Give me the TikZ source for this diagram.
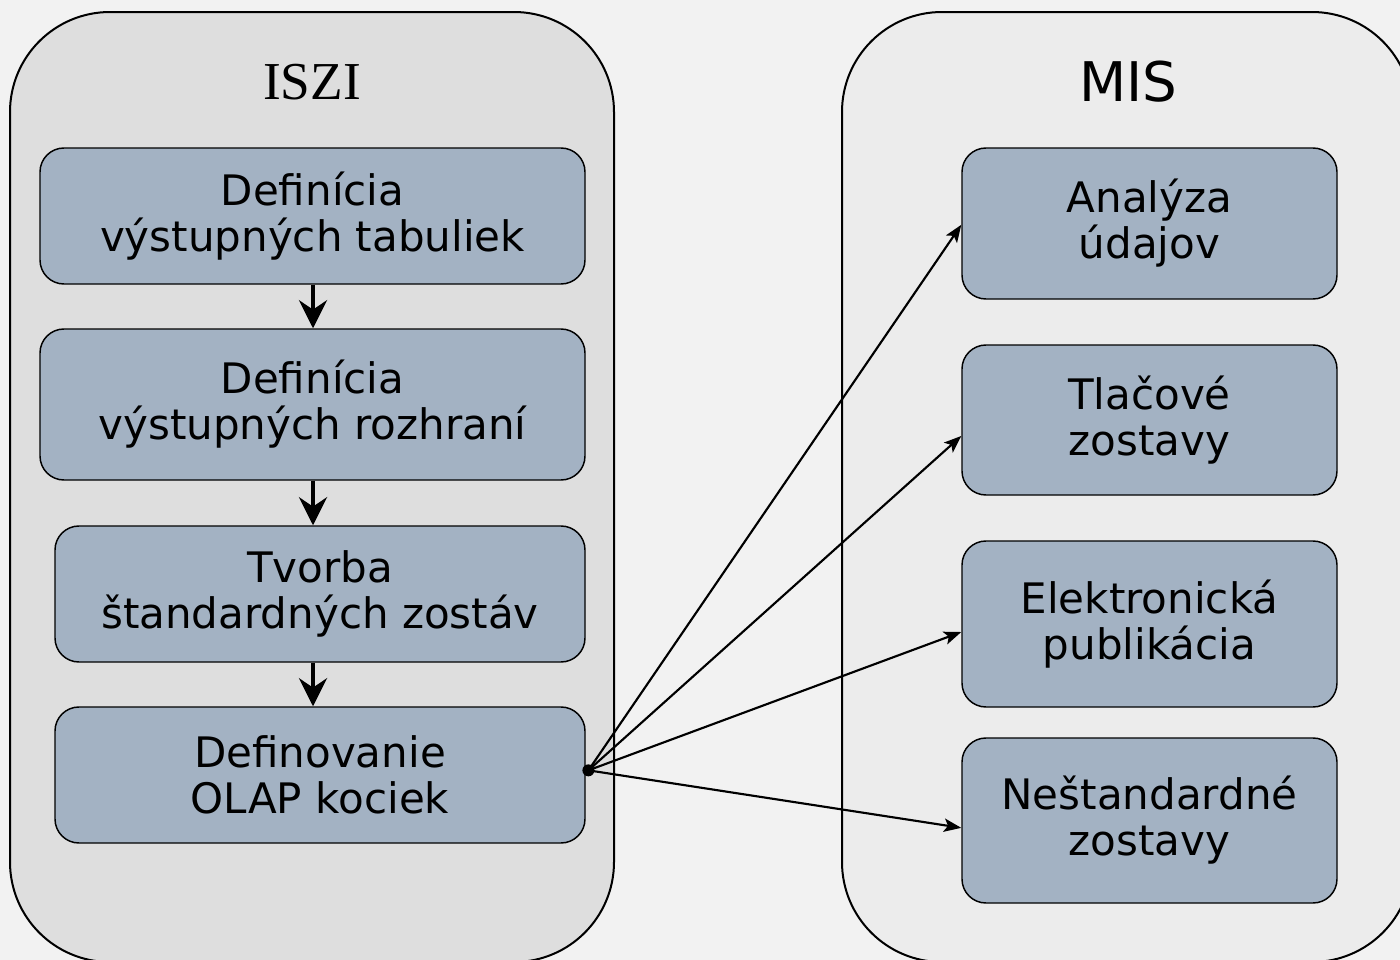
\documentclass[tikz,border=0pt]{standalone}
\usepackage{fontspec}
\setmainfont{DejaVu Sans}
\newfontfamily\titleserif{Liberation Serif}
\usetikzlibrary{arrows.meta}

\definecolor{pagegray}{RGB}{242,242,242}
\definecolor{leftgray}{RGB}{222,222,222}
\definecolor{rightgray}{RGB}{236,236,236}
\definecolor{boxblue}{RGB}{163,178,195}

\tikzset{every picture/.style={line width=0.75pt}}
\tikzset{
  stepbox/.style={draw, fill=boxblue, rounded corners=18pt, line width=1.1pt, inner sep=0pt, align=center, font=\fontsize{31.5}{34.5}\selectfont},
  flowarrow/.style={line width=3.2pt, -{Stealth[length=21pt,width=21pt,inset=7pt]}},
  fanarrow/.style={line width=1.6pt, -{Stealth[length=13pt,width=10pt,inset=3pt]}}
}

\begin{document}
\begin{tikzpicture}[x=0.75pt,y=0.75pt,yscale=-1,xscale=1]
	\useasboundingbox (0,0) rectangle (1400,960);
	\clip (0,0) rectangle (1400,960);
	\fill [pagegray] (0,0) rectangle (1400,960);
	
	%Shape: Rounded Rect [id:iszi]
	\draw [fill=leftgray, line width=1.5pt, rounded corners=75pt]  (10,12) rectangle (614,962) ;
	%Shape: Rounded Rect [id:mis]
	\draw [fill=rightgray, line width=1.5pt, rounded corners=75pt]  (842,12) rectangle (1412,962) ;
	
	% Text Node
	\node (isziTitle) at (312,82) [font=\titleserif\fontsize{40}{44}\selectfont] {ISZI};
	% Text Node
	\node (misTitle) at (1128,82) [font=\fontsize{41}{46}\selectfont] {MIS};
	
	% Left column
	\node (tabulky) at (312.5,216) [stepbox, minimum width=408.75pt, minimum height=102pt] {Definícia\\výstupných tabuliek};
	\node (rozhrania) at (312.5,404.5) [stepbox, minimum width=408.75pt, minimum height=113.25pt] {Definícia\\výstupných rozhraní};
	\node (zostavy) at (320,594) [stepbox, minimum width=397.5pt, minimum height=102pt] {Tvorba\\štandardných zostáv};
	\node (olap) at (320,775) [stepbox, minimum width=397.5pt, minimum height=102pt] {Definovanie\\OLAP kociek};
	
	% Right column
	\node (analyza) at (1149.5,223.5) [stepbox, minimum width=281.25pt, minimum height=113.25pt] {Analýza\\údajov};
	\node (tlacove) at (1149.5,420) [stepbox, minimum width=281.25pt, minimum height=112.5pt] {Tlačové\\zostavy};
	\node (publikacia) at (1149.5,624) [stepbox, minimum width=281.25pt, minimum height=124.5pt] {Elektronická\\publikácia};
	\node (nestandard) at (1149.5,820.5) [stepbox, minimum width=281.25pt, minimum height=123.75pt] {Neštandardné\\zostavy};
	
	%Straight Lines
	\draw [flowarrow] (tabulky.south -| 313,0) -- (rozhrania.north -| 313,0) ;
	\draw [flowarrow] (rozhrania.south -| 313,0) -- (zostavy.north -| 313,0) ;
	\draw [flowarrow] (zostavy.south -| 313,0) -- (olap.north -| 313,0) ;
	
	\coordinate (src) at ([xshift=2pt,yshift=-3.5pt]olap.east);
	\fill (src) circle [radius=4.5pt];
	\draw [fanarrow] (src) -- ([yshift=1pt]analyza.west) ;
	\draw [fanarrow] (src) -- ([yshift=12pt]tlacove.west) ;
	\draw [fanarrow] (src) -- ([yshift=6pt]publikacia.west) ;
	\draw [fanarrow] (src) -- ([yshift=5.5pt]nestandard.west) ;
	
\end{tikzpicture}
\end{document}
